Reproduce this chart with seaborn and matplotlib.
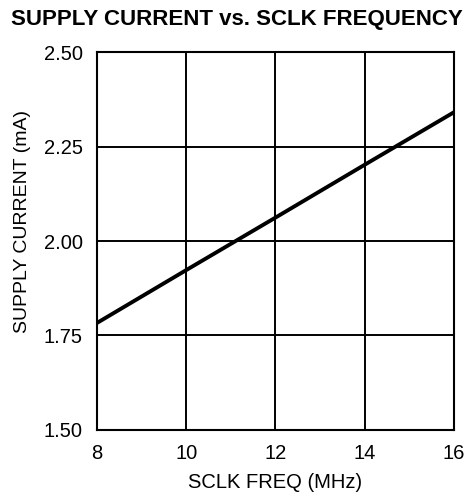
import matplotlib
matplotlib.use("Agg")
import matplotlib.pyplot as plt
import seaborn as sns
import pandas as pd

# Supply current vs SCLK frequency
sclk_freq_mhz = [8.0, 10.0, 12.0, 14.0, 16.0]
supply_current_ma = [1.783, 1.923, 2.062, 2.202, 2.341]
x_ticks = [8, 10, 12, 14, 16]
y_ticks = [1.50, 1.75, 2.00, 2.25, 2.50]
y_tick_labels = ["1.50", "1.75", "2.00", "2.25", "2.50"]

df = pd.DataFrame({"freq": sclk_freq_mhz, "current": supply_current_ma})

sns.set_theme(style="white")
plt.rcParams["font.family"] = ["Liberation Sans", "DejaVu Sans"]

fig = plt.figure(figsize=(4.68, 4.97), dpi=100)
ax = fig.add_axes([0.207, 0.135, 0.763, 0.760])

sns.lineplot(data=df, x="freq", y="current", ax=ax, color="black", linewidth=2.8)

ax.set_xlim(8, 16)
ax.set_ylim(1.5, 2.5)
ax.set_xticks(x_ticks)
ax.set_yticks(y_ticks)
ax.set_yticklabels(y_tick_labels)
ax.grid(True, color="black", linewidth=1.4)
ax.set_axisbelow(True)
for s in ax.spines.values():
    s.set_color("black")
    s.set_linewidth(1.5)
ax.tick_params(length=0, labelsize=14.5, colors="black")
ax.tick_params(axis="y", pad=10)
ax.tick_params(axis="x", pad=10)

ax.set_xlabel("SCLK FREQ (MHz)", fontsize=14.5, color="black")
ax.set_ylabel("SUPPLY CURRENT (mA)", fontsize=14, color="black")
ax.xaxis.label.set_va("center")
ax.yaxis.label.set_va("center")
ax.xaxis.set_label_coords(0.5, -0.140)
ax.yaxis.set_label_coords(-0.207, 0.553)

fig.text(0.507, 0.961, "SUPPLY CURRENT vs. SCLK FREQUENCY", ha="center", va="center",
         fontsize=16, fontweight="bold", color="black")

fig.savefig("out.png", dpi=100, facecolor="white")
